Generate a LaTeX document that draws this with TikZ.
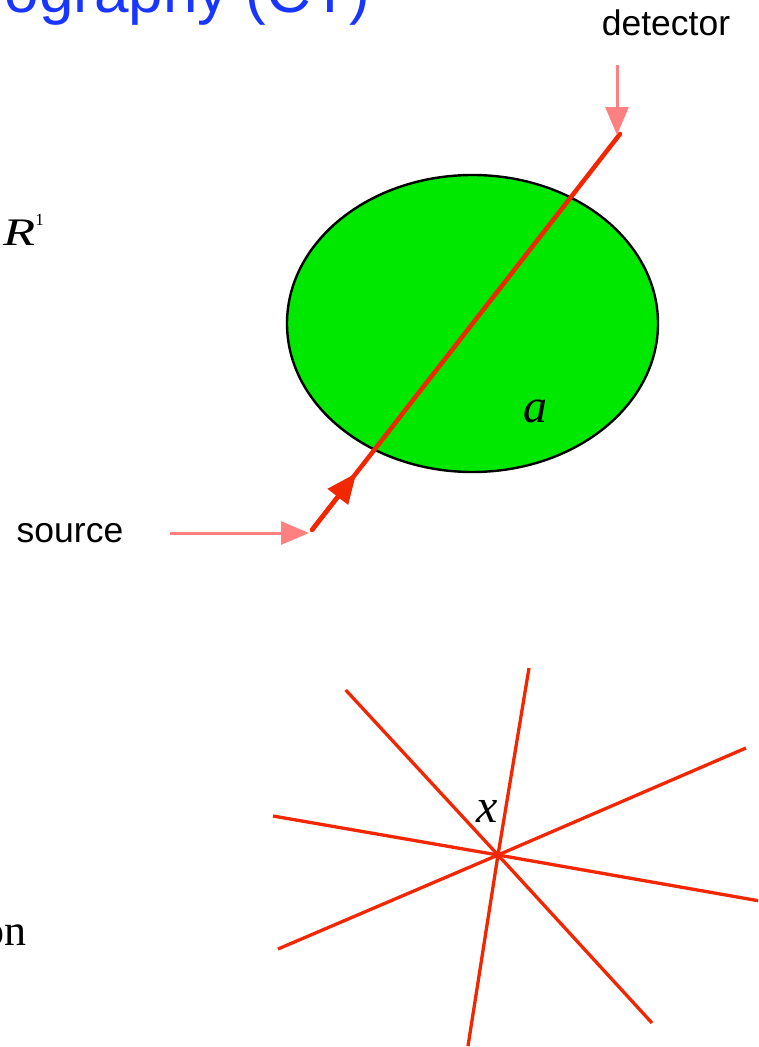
\documentclass[tikz,border=0pt]{standalone}
\usepackage{fontspec}
\setmainfont{Liberation Serif}
\setsansfont{Liberation Sans}
\usetikzlibrary{shapes.geometric,arrows.meta,calc}
\definecolor{objgreen}{RGB}{0,232,0}
\definecolor{rayred}{RGB}{242,38,0}
\definecolor{pointerpink}{RGB}{255,128,128}
\definecolor{titleblue}{RGB}{24,54,255}
\begin{document}
\begin{tikzpicture}[x=1pt,y=-1pt,
  ray/.style={draw=rayred,line width=4.5pt},
  backray/.style={draw=rayred,line width=3.3pt},
  pointer/.style={draw=pointerpink,line width=3pt,
    -{Triangle[length=28pt,width=23pt]},fill=pointerpink},
  sanslabel/.style={font=\sffamily\fontsize{35.5}{38}\selectfont,inner sep=0pt},
  mathlabel/.style={font=\fontsize{48}{50}\selectfont\itshape,inner sep=0pt}]
\useasboundingbox (0,0) rectangle (758,1047);
\clip (0,0) rectangle (758,1047);

% title (only its lower part lies inside the page)
\node[anchor=base east,inner sep=0pt,text=titleblue,
  font=\sffamily\fontsize{62}{64}\selectfont] (title) at (370,12) {ography (CT)};

% left margin fragments
\node[anchor=base east,inner sep=0pt] (rone) at (44,245)
  {\scalebox{1.35}[1]{\fontsize{39}{40}\selectfont\itshape R}\raisebox{20pt}{\fontsize{17}{18}\selectfont 1}};
\node[anchor=base east,inner sep=0pt,font=\fontsize{44}{46}\selectfont] (on) at (27,945) {on};

% object
\node[ellipse,draw=black,line width=2.4pt,fill=objgreen,inner sep=0pt,
  minimum width=371pt,minimum height=297pt] (obj) at (472.5,323.5) {};
\node[mathlabel,anchor=base] (alabel) at (535,422) {a};

% ray from source to detector
\coordinate (src) at (312,530);
\coordinate (det) at (620,134);
\draw[ray,line cap=round] (src) -- (det);
\draw[ray,-{Triangle[length=30pt,width=25pt]},fill=rayred]
  (src) -- ($(src)!72pt!(det)$);

% labels with pointers
\node[sanslabel,anchor=base] (srclabel) at (70,542) {source};
\coordinate (srctail) at (170,533);
\coordinate (srctip) at (309,533);
\draw[pointer] (srctail) -- (srctip);

\node[sanslabel,anchor=base] (detlabel) at (666,35) {detector};
\coordinate (dettail) at (617,65);
\coordinate (dettip) at (617,135);
\draw[pointer] (dettail) -- (dettip);

% lines through a point x
\coordinate (X) at (498,855);
\coordinate (a1) at (345.7,690);  \coordinate (a2) at (652,1023);
\coordinate (b1) at (529,668);    \coordinate (b2) at (468,1046);
\coordinate (c1) at (273,816);    \coordinate (c2) at (760,901);
\coordinate (d1) at (278,949);    \coordinate (d2) at (746,748);
\draw[backray] (a1) -- (X) -- (a2);
\draw[backray] (b1) -- (X) -- (b2);
\draw[backray] (c1) -- (X) -- (c2);
\draw[backray] (d1) -- (X) -- (d2);
\node[mathlabel,anchor=base] (xlabel) at (487,822) {x};
\end{tikzpicture}
\end{document}
